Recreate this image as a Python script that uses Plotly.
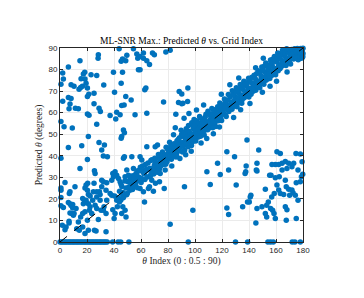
import plotly.graph_objects as go

# ---- data (x = theta index, y = predicted theta) ----
ul_x = [0.7, 2, 2.5, 6.2, 2, 6.2, 8.2, 6.7, 7.4, 0.7, 3, 9.1, 6.2, 0.7, 8.2, 10.4, 11.4, 13.6,
        14.8, 15.6, 17.3, 18.3, 14.1, 15.3, 16.6, 18.5, 19.3, 20.3, 20.3, 21.3, 20.3, 21.5, 21,
        16.1, 14.8, 20.3, 23, 27.2, 25.2, 25.2, 27.2, 28.4, 28.2, 28.9, 29.9, 28.9, 32.4, 30.9,
        32.9, 32.1, 35.1, 37.1, 39.6, 40.4, 42, 41.3, 43.8, 45.3, 46.3, 46.3, 45.3, 45.7, 47.5,
        48.7, 44.5, 47, 47.7, 45.7, 45.3, 49.5, 48.7, 54.4, 52.7, 55.6, 56.9, 57.6, 59.3, 58.1,
        59.3, 61.8, 61.8, 64.3, 66.3, 68.5, 69.9, 62.8, 63.6, 64.3, 76.7, 78.4, 81.6, 85.8, 88.3,
        90.2, 91.0, 87.8, 90.2, 94.5, 94.7]
ul_y = [73.2, 78.4, 75.6, 81.2, 65.3, 67, 66.6, 61.8, 64, 55.9, 53.5, 52.9, 43.8, 38.8, 73, 72.2,
        62, 61.8, 84.1, 75.7, 77.9, 78.8, 70.9, 71.7, 72.2, 75.6, 73.7, 71.4, 67.5, 68.6, 59.4,
        58.8, 48.9, 44.7, 34.1, 38.3, 77.6, 77.3, 69, 64.1, 54.6, 86.9, 85.3, 62.1, 60.5, 46.2,
        72.8, 42.7, 45, 39.9, 39.6, 58.7, 78.8, 69.5, 60.2, 57.1, 89.7, 83.8, 84.9, 78.7, 73.7,
        63.3, 63.6, 67.5, 59, 52, 50.7, 48.9, 48.1, 86.6, 84.1, 89.7, 65.9, 59, 87.2, 85.3, 86.1,
        79.9, 79.9, 87.7, 85.3, 84.1, 82.3, 87.7, 86.9, 70.6, 71.4, 59.7, 64.9, 88.1, 88.9, 59.3,
        69.8, 68.7, 64.4, 64.7, 64.1, 65.2, 71.4]

lr_x = [138.5, 147.2, 123.6, 129.3, 116.7, 118.7, 108.8, 124.9, 111.3, 130.5, 92.2, 137.9, 137.6,
        137.1, 145.9, 145.4, 145.9, 141.4, 140.9, 140.2, 138.9, 135.3, 123.6, 124.9, 98.4, 81.6,
        145.1, 145.9, 149.6, 152.1, 155.3, 156.3, 157, 159.5, 163.2, 162, 164.5, 166.9, 169.4,
        173.1, 174.8, 178, 179.3, 176.3, 179.8, 178.8, 171.8, 168.1, 164.5, 162.4, 159.5, 160.7,
        158.7, 162, 163.2, 165.7, 166.9, 167.6, 169.4, 170.1, 171.8, 172.6, 174.3, 176.3, 178,
        175, 156.8, 154.3, 153.1, 156, 157.5, 158.5, 152.1, 153.1, 159.5, 166.9, 168.1, 167.6,
        175, 160.7]
lr_y = [47.3, 42.7, 41.9, 39.6, 36.5, 31.3, 32.6, 33.4, 26.7, 26.4, 25.6, 35.2, 32.6, 31.8, 36.5,
        33.4, 32.9, 21.7, 20.9, 18.6, 18.6, 16.3, 15.8, 12.7, 14.7, 8.2, 8.8, 15.5, 16.3, 24.5, 31,
        31, 36, 36, 41.1, 36, 36.5, 37.4, 36.5, 36.5, 41.1, 40.8, 37.2, 33.4, 31.4, 30.3, 34.9,
        34.1, 33.4, 30.3, 29.8, 26.4, 22.5, 24.1, 22.5, 22, 28.7, 25.6, 24.5, 21.7, 24.1, 22.8,
        21.7, 19.4, 27.9, 27.5, 20.9, 18.6, 17.1, 15.5, 14.7, 13.2, 13.2, 11.6, 10.9, 16.3, 15,
        10.1, 10.9, 41.9]

ll_x = [0.7, 0.7, 0.7, 0.7, 2.5, 3.7, 1.7, 4.5, 3.7, 6.9, 7.4, 6.2, 7.4, 8.2, 9.4, 6.7, 6.7, 8.7,
        7.4, 10.4, 9.9, 11.1, 9.4, 11.9, 13.6, 12.4, 14.3, 16.8, 15.3, 16.8, 18.5, 16.8, 18.1,
        19.3, 17.3, 18.5, 19.3, 20.5, 20.3, 21, 22.3, 21, 22.3, 21.8, 20.3, 21, 18.5, 23.5, 24.2,
        24.7, 25.5, 26, 25.2, 27.2, 27.2, 26, 27.2, 28.4, 25.5, 26.7, 29.2, 29.7, 30.9, 30.9,
        32.1, 29.7, 30.4, 32.1, 34.1, 32.6, 34.6, 34.1, 34.6, 34.1, 37.1, 38.3, 39.1, 39.6, 39.1,
        40.1, 40.8, 42, 42.5, 43.3, 44, 45, 45.7, 46.5, 48.2, 48.9, 45.7, 40.8, 42, 43.3, 44.5,
        38.3, 47, 47.7, 48.2, 49.5, 50.7, 51.9, 52.7, 54.4, 53.2, 54.4, 56.4, 57.6, 58.6, 59.3,
        60.6, 61.8, 59.3, 61.8, 64.3, 62.6, 65.5, 66.3, 66.8, 68, 69.2, 70.7, 71.7, 73.7, 74.2,
        77.2, 77.9, 76.2, 70.5, 72.2]
ll_y = [25.1, 24, 20.6, 16.8, 16, 27.6, 7.8, 7, 5.7, 22.5, 23.3, 18.3, 17.8, 16.9, 17.4, 8.8, 9.6,
        13.2, 13.5, 13.2, 12.4, 25.6, 15.8, 15.5, 9.3, 6.2, 5.4, 7, 11.6, 13.2, 14, 20.2, 19.4,
        19.4, 17.8, 25.1, 26.4, 27.2, 24, 22, 21.3, 17.8, 16.3, 14.7, 10.1, 5.4, 3.9, 13.2, 19.4,
        23.3, 33, 31.8, 27.2, 23.3, 20.9, 17.1, 15.5, 10.4, 5.4, 5.1, 23.3, 22, 25.6, 28.7, 27.9,
        19.4, 14.7, 14.7, 13.2, 16.3, 19.4, 24, 27.5, 4.7, 22.5, 21.7, 31.8, 30.3, 15, 10.9, 13.2,
        19.4, 16.3, 20.5, 18.6, 19.4, 22.5, 16.3, 14.7, 11.6, 13.2, 32.6, 31, 29.5, 27.9, 28.7,
        38.8, 39.6, 30.3, 33.4, 31, 28.7, 25.6, 26.4, 39.6, 34.1, 31.8, 33, 28.7, 39.6, 38, 33,
        24.8, 23.3, 44.2, 18.6, 24.8, 25.6, 30.3, 28.7, 23.6, 27.2, 33.4, 27.9, 31.8, 24.8, 33.4,
        36.5, 44.2, 45]

# diagonal band, outer spread
band_x = [40.5, 45.8, 47.2, 50.3, 51.8, 53.1, 55.4, 56.7, 57.9, 59.5, 60.8, 61.6, 63.2, 64.7,
          65.9, 67.3, 68.6, 69.4, 70.2, 71.5, 72.9, 73.6, 74.8, 75.9, 76.5, 77.8, 78.6, 79.3,
          80.7, 81.2, 82.5, 83.4, 84.1, 85.6, 86.3, 87.5, 88.2, 89.7, 90.4, 91.6, 92.3, 93.8,
          94.6, 95.2, 96.9, 97.4, 98.7, 99.3, 100.8, 101.5, 102.7, 103.4, 104.9, 105.6, 106.8,
          107.5, 108.3, 109.6, 110.2, 111.7, 112.5, 113.9, 114.6, 115.3, 116.8, 117.6, 118.4,
          119.7, 120.5, 121.8, 122.6, 123.3, 124.7, 125.4, 126.9, 127.6, 128.2, 129.8, 130.6,
          131.3, 132.7, 133.5, 134.9, 135.6, 136.2, 137.8, 138.4, 139.7, 140.3, 141.9, 142.5,
          143.8, 144.6, 145.2, 146.7, 147.4, 148.9, 149.5, 150.2, 151.8, 152.4, 153.7, 154.3,
          155.9, 156.6, 157.2, 158.8, 159.4, 160.7, 161.3, 162.9, 163.5, 164.8, 165.6, 166.2,
          167.9, 168.5, 169.3, 170.8, 171.4, 172.7, 173.5, 174.2, 175.8, 176.5, 177.3, 178.6,
          179.4, 179.8,
          82.8, 88.8, 93.1, 97.2, 104.5, 108.7, 113.6, 118.1, 85.4, 91.9, 95.5, 101.1, 106.4,
          128.6, 133.8, 140.7, 149.9, 155.6, 119.5, 125.8, 132.4, 144.9, 150.6, 160.4, 168.2]
band_y = [21.3, 25.7, 21.1, 27.9, 24.0, 30.6, 26.2, 31.8, 28.5, 34.7, 29.1, 32.4, 35.9, 30.2,
          33.6, 37.8, 34.0, 31.5, 38.9, 35.2, 40.6, 33.8, 37.4, 41.7, 35.9, 39.3, 43.9, 37.2,
          40.8, 46.3, 38.4, 42.9, 49.7, 44.1, 40.2, 47.6, 43.0, 51.8, 45.3, 48.9, 42.6, 50.4,
          46.7, 54.1, 49.0, 44.8, 52.6, 56.8, 48.4, 53.7, 50.9, 58.2, 52.0, 55.5, 49.6,
          57.9, 54.3, 60.6, 52.8, 57.4, 61.9, 55.0, 59.8, 53.6, 62.7, 58.1, 64.5,
          56.4, 61.2, 66.3, 59.0, 63.8, 68.4, 61.7, 65.0, 70.2, 62.9, 67.5, 71.6,
          64.2, 68.9, 73.1, 66.0, 70.8, 74.6, 67.7, 72.3, 76.0, 69.1, 73.9, 70.6,
          77.4, 71.9, 75.3, 79.5, 72.8, 77.0, 81.2, 74.4, 78.7, 83.0, 75.6, 80.3,
          84.4, 77.2, 81.9, 86.1, 79.0, 83.5, 87.7, 80.4, 84.8, 89.0, 82.3, 86.5,
          89.6, 84.0, 87.9, 82.6, 89.3, 85.7, 88.4, 86.9, 89.8, 84.6, 87.3, 85.2,
          88.7, 86.0,
          35.2, 38.7, 40.5, 42.1, 45.9, 48.0, 50.2, 53.4, 53.0, 57.4, 59.6, 61.2, 63.5,
          57.8, 61.4, 64.3, 69.5, 72.2, 68.6, 73.0, 76.1, 80.8, 85.3, 74.6, 78.9]

# diagonal band, second pass of points
band2_x = [45.2, 46.9, 48.1, 49.4, 50.8, 52.0, 53.7, 54.9, 56.1, 57.3, 58.8, 60.1, 61.1, 62.9,
           64.1, 65.2, 66.8, 68.1, 69.0, 70.6, 71.9, 73.2, 74.4, 75.6, 76.9, 78.3, 79.6, 80.3,
           81.6, 82.1, 83.8, 84.5, 85.9, 86.6, 87.2, 88.5, 89.3, 90.1, 90.7, 91.9, 92.6, 93.5,
           94.9, 95.6, 96.6, 97.6, 98.4, 99.0, 100.1, 100.6, 101.2, 102.5, 103.1, 104.1, 104.7,
           105.9, 106.5, 107.2, 108.1, 109.4, 110.5, 111.4, 112.2, 113.1, 114.3, 115.1, 116.5,
           117.3, 118.2, 119.0, 120.2, 121.1, 122.3, 123.1, 124.4, 125.1, 126.1, 127.4, 128.4,
           129.5, 130.3, 131.1, 132.0, 132.9, 134.0, 134.6, 135.9, 136.5, 137.1, 138.1, 139.0,
           139.9, 140.6, 141.5, 142.2, 143.1, 144.3, 145.0, 145.6, 146.4, 147.1, 148.0, 148.6,
           149.3, 150.4, 151.0, 151.5, 152.6, 153.4, 154.0, 154.6, 155.4, 156.3, 157.0, 157.6,
           158.4, 159.1, 159.7, 160.9, 161.6, 162.5, 163.3, 163.8, 164.5, 165.3, 166.0, 166.6,
           167.4, 168.0, 168.7, 169.6, 170.3, 170.9, 171.6, 172.3, 173.0, 173.7, 174.5, 175.3,
           176.0, 176.7, 177.5, 178.3, 179.0, 179.6, 180]
band2_y = [26.8, 20.5, 28.3, 21.9, 25.4, 29.6, 24.3, 30.9, 27.0, 25.2, 33.1, 27.6, 35.2, 29.0,
           33.8, 36.7, 30.9, 38.1, 33.2, 36.3, 32.4, 39.0, 35.0, 39.9, 37.9, 36.1, 43.2, 39.0,
           42.7, 44.6, 40.1, 45.6, 39.4, 46.9, 42.0, 48.4, 46.0, 49.9, 41.8, 50.8, 45.0, 52.5,
           44.2, 51.4, 46.0, 55.3, 46.6, 53.9, 55.0, 46.9, 56.2, 48.7, 55.1, 49.1, 57.2,
           50.8, 56.7, 51.9, 59.3, 52.1, 59.1, 53.9, 59.5, 53.0, 61.3, 55.8, 60.6,
           56.2, 62.3, 57.6, 63.5, 59.4, 64.6, 58.2, 65.9, 60.5, 67.4, 61.6, 68.3,
           63.3, 69.8, 62.8, 70.3, 64.9, 71.6, 64.4, 72.7, 66.9, 73.4, 68.1, 74.0,
           67.3, 75.2, 68.6, 76.4, 69.9, 76.0, 70.4, 78.1, 72.2, 78.6, 71.6, 79.1,
           73.6, 80.0, 73.2, 81.6, 75.0, 82.1, 76.2, 81.4, 75.9, 83.2, 77.5, 84.8,
           78.3, 83.9, 77.6, 85.0, 79.4, 86.3, 80.9, 87.2, 81.6, 88.1, 82.8, 87.7,
           81.9, 88.8, 83.4, 89.2, 84.7, 88.5, 85.4, 88.9, 84.9, 89.7, 86.4, 85.1,
           89.0, 86.2, 88.0, 89.8, 87.1, 85.6, 87.4]

# dense core of the band, close to the reference line
core_x = [42.3, 44.1, 46.6, 48.8, 49.9, 52.4, 54.2, 55.8, 58.3, 59.9, 62.4, 63.9, 66.5, 67.9,
          69.9, 71.1, 72.2, 74.1, 75.3, 77.1, 78.1, 79.9, 81.9, 83.0, 84.8, 85.1, 86.9, 87.9,
          89.0, 90.9, 91.2, 92.9, 93.3, 94.2, 95.8, 96.3, 97.9, 98.1, 99.8, 100.3, 101.9, 102.2,
          103.8, 104.3, 105.1, 106.2, 107.9, 108.9, 109.1, 110.9, 111.2, 112.9, 113.3, 114.1,
          115.9, 116.2, 117.1, 118.9, 119.2, 120.9, 121.3, 122.1, 123.9, 124.2, 125.9, 126.4,
          127.2, 128.9, 129.2, 130.1, 131.9, 132.2, 133.1, 134.3, 135.1, 136.8, 137.3, 138.9,
          139.2, 140.9, 141.2, 142.9, 143.3, 144.1, 145.9, 146.1, 147.9, 148.3, 149.1, 150.9,
          151.2, 152.9, 153.1, 154.9, 155.2, 156.1, 157.9, 158.1, 159.9, 160.1, 161.9, 162.2,
          163.1, 164.2, 165.1, 166.9, 167.1, 168.9, 169.9, 170.1, 171.9, 172.1, 173.9, 174.9,
          175.1, 176.9, 177.9, 178.1, 179.1, 180]
core_y = [20.4, 23.5, 23.0, 25.1, 22.6, 27.1, 28.0, 29.3, 30.1, 29.6, 31.5, 33.1, 34.2, 32.7,
          35.6, 36.9, 36.0, 38.2, 37.1, 38.6, 40.4, 41.2, 40.5, 41.9, 43.2, 41.6, 44.8, 45.1,
          43.9, 46.2, 44.4, 47.3, 45.8, 48.6, 47.5, 50.7, 48.2, 50.1, 49.3, 51.6, 50.4, 52.3,
          51.3, 53.8, 52.9, 54.2, 53.1, 55.8, 54.0, 56.1, 55.2, 57.3, 56.4, 58.0,
          57.2, 58.9, 59.7, 58.6, 60.9, 60.2, 61.8, 62.4, 61.5, 62.8, 63.7, 62.5,
          64.4, 64.1, 65.8, 64.7, 66.4, 65.6, 67.2, 68.0, 67.4, 68.7, 69.5, 69.0,
          70.4, 71.2, 70.1, 72.0, 71.5, 73.2, 72.6, 74.1, 74.5, 73.7, 75.6, 75.1,
          76.4, 76.9, 77.8, 77.3, 78.6, 79.1, 78.4, 79.9, 80.5, 79.6, 81.4, 82.0,
          81.1, 82.7, 83.4, 83.0, 84.5, 85.1, 84.3, 85.9, 86.2, 87.1, 86.0, 87.8,
          88.2, 88.5, 89.1, 87.6, 89.5, 89.9]

zero_x = [0, 1, 2, 3, 4, 5, 6, 7, 8, 9, 10, 11, 12, 13, 14, 15, 16, 17, 18, 19, 20, 21, 22, 23,
          24, 25, 26, 27, 28, 29, 30, 31, 32, 33, 34, 35, 39, 43, 45, 51, 95, 130, 139, 154,
          156, 158, 172, 174, 178]
zero_y = [0] * len(zero_x)

ref_x = [0, 180]
ref_y = [0, 90]

x_ticks = [0, 20, 40, 60, 80, 100, 120, 140, 160, 180]
y_ticks = [0, 10, 20, 30, 40, 50, 60, 70, 80, 90]

all_x = ul_x + lr_x + ll_x + band_x + band2_x + core_x + zero_x
all_y = ul_y + lr_y + ll_y + band_y + band2_y + core_y + zero_y

blue = "#0072BD"
axc = "#262626"

fig = go.Figure()
fig.add_trace(go.Scatter(x=all_x, y=all_y, mode="markers",
                         marker=dict(size=5.5, color=blue, line=dict(width=0)),
                         cliponaxis=False, showlegend=False, hoverinfo="skip"))
fig.add_trace(go.Scatter(x=ref_x, y=ref_y, mode="lines+markers",
                         line=dict(color="black", width=1, dash="dash"),
                         marker=dict(size=5, color="rgba(0,0,0,0)", symbol="circle-open",
                                     line=dict(color="black", width=1)),
                         cliponaxis=False, showlegend=False, hoverinfo="skip"))

serif = "Liberation Serif"
sans = "Liberation Sans"
fig.update_layout(
    width=364, height=298,
    margin=dict(l=60, r=61, t=48, b=56, autoexpand=False),
    paper_bgcolor="white", plot_bgcolor="white",
    title=dict(text="ML-SNR Max.: Predicted <i>θ</i> vs. Grid Index",
               x=0.5, xref="paper", xanchor="center", y=(298 - 41) / 298, yanchor="middle",
               font=dict(family=serif, size=9.5, color="black")),
    xaxis=dict(range=[0, 180], tickvals=x_ticks, ticktext=[str(v) for v in x_ticks],
               automargin=False,
               showgrid=True, gridcolor="#ebebeb", gridwidth=0.8, zeroline=False,
               showline=True, linecolor=axc, linewidth=0.8, mirror="ticks",
               ticks="inside", ticklen=3, tickcolor=axc,
               tickfont=dict(family=sans, size=8, color=axc),
               title=dict(text="<i>θ</i> Index (0 : 0.5 : 90)", standoff=3,
                          font=dict(family=serif, size=9.5, color=axc))),
    yaxis=dict(range=[0, 90], tickvals=y_ticks, ticktext=[str(v) for v in y_ticks],
               automargin=False,
               showgrid=True, gridcolor="#ebebeb", gridwidth=0.8, zeroline=False,
               showline=True, linecolor=axc, linewidth=0.8, mirror="ticks",
               ticks="inside", ticklen=3, tickcolor=axc,
               tickfont=dict(family=sans, size=8, color=axc),
               title=dict(text="Predicted <i>θ</i> (degrees)", standoff=4,
                          font=dict(family=serif, size=9.5, color=axc))),
)

fig.write_html("out.html", config={"displayModeBar": False},
               post_script="document.body.style.margin='0';document.body.style.padding='0';")
